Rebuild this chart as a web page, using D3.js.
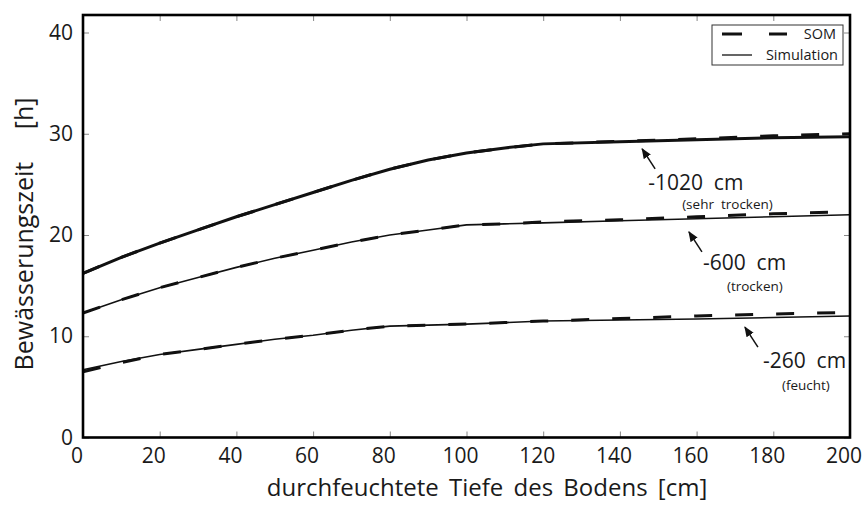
<!DOCTYPE html>
<html><head><meta charset="utf-8">
<script src="https://cdn.jsdelivr.net/npm/d3@7"></script>
<style>body{margin:0;background:#fff}svg{display:block}text{font-family:"Open Sans",sans-serif;fill:#1a1a1a}</style>
</head><body><svg id="c" width="865" height="505"></svg>
<script>
const depth = [0,10,20,30,40,50,60,70,80,90,100,110,120,140,160,180,200];
const sim1020 = [16.2,17.8,19.2,20.5,21.8,23.0,24.2,25.4,26.5,27.4,28.1,28.6,29.0,29.2,29.4,29.6,29.7];
const som1020 = [16.2,17.8,19.2,20.5,21.8,23.0,24.2,25.4,26.5,27.4,28.1,28.6,29.0,29.25,29.5,29.8,30.0];
const sim600 = [12.3,13.6,14.8,15.8,16.8,17.7,18.5,19.3,20.0,20.5,21.0,21.1,21.2,21.4,21.6,21.8,22.0];
const som600 = [12.3,13.6,14.8,15.8,16.8,17.7,18.5,19.3,20.0,20.5,21.0,21.1,21.3,21.5,21.8,22.1,22.3];
const sim260 = [6.7,7.5,8.2,8.7,9.2,9.7,10.1,10.6,11.0,11.1,11.2,11.35,11.5,11.6,11.7,11.85,12.0];
const som260 = [6.5,7.4,8.2,8.7,9.2,9.7,10.1,10.6,11.0,11.1,11.2,11.35,11.5,11.75,12.0,12.2,12.35];
const xTicks = [0,20,40,60,80,100,120,140,160,180,200];
const yTicks = [0,10,20,30,40];
const seriesNames = ["SOM","Simulation"];
const labelBig = ["-1020  cm","-600  cm","-260  cm"];
const labelSmall = ["(sehr  trocken)","(trocken)","(feucht)"];
const arrowDepth = [145.8,158,172.6];
const arrowValue = [28.5,20.3,10.9];

const svg = d3.select("#c");
const x = d3.scaleLinear([0,200],[83,850]);
const y = d3.scaleLinear([0,40],[437.5,32.5]);
const yTop = y.invert(15);

// inward ticks
const tickCol = "#888";
const gAxB = svg.append("g").attr("transform",`translate(0,${y(0)})`)
  .call(d3.axisBottom(x).tickValues(xTicks).tickSize(-6).tickFormat(""));
const gAxT = svg.append("g").attr("transform",`translate(0,${y(yTop)})`)
  .call(d3.axisTop(x).tickValues(xTicks).tickSize(-6).tickFormat(""));
const gAxL = svg.append("g").attr("transform",`translate(${x(0)},0)`)
  .call(d3.axisLeft(y).tickValues(yTicks).tickSize(-6).tickFormat(""));
const gAxR = svg.append("g").attr("transform",`translate(${x(200)},0)`)
  .call(d3.axisRight(y).tickValues(yTicks).tickSize(-6).tickFormat(""));
[gAxB,gAxT,gAxL,gAxR].forEach(g=>{g.select(".domain").remove();g.selectAll("line").attr("stroke",tickCol).attr("stroke-width",1);});

// tick labels
svg.append("g").selectAll("text").data(xTicks).join("text")
  .attr("x",d=>x(d)-6).attr("y",463).attr("text-anchor","middle")
  .attr("font-size",21).text(d=>d);
svg.append("g").selectAll("text").data(yTicks).join("text")
  .attr("x",73).attr("y",d=>y(d)+7).attr("text-anchor","end")
  .attr("font-size",21).text(d=>d);

// axis titles
svg.append("text").attr("x",487).attr("y",496).attr("text-anchor","middle")
  .attr("font-size",24).attr("word-spacing","4px").text("durchfeuchtete Tiefe des Bodens [cm]");
svg.append("text").attr("transform","translate(33,234) rotate(-90)").attr("text-anchor","middle")
  .attr("font-size",25).attr("xml:space","preserve").text("Bewässerungszeit     [h]");

// series
const mk = arr => depth.map((d,i)=>[d,arr[i]]);
const line = d3.line().x(d=>x(d[0])).y(d=>y(d[1]));
const soms = [som1020, som600, som260];
const sims = [sim1020, sim600, sim260];
const simW = [3, 1.6, 1.6];
svg.append("g").selectAll("path").data(soms).join("path")
  .attr("d",d=>line(mk(d))).attr("fill","none").attr("stroke","#111")
  .attr("stroke-width",3).attr("stroke-dasharray","18,23");
svg.append("g").selectAll("path").data(sims).join("path")
  .attr("d",d=>line(mk(d))).attr("fill","none").attr("stroke","#111")
  .attr("stroke-width",(d,i)=>simW[i]);

// frame
svg.append("rect").attr("x",x(0)).attr("y",y(yTop)).attr("width",x(200)-x(0)).attr("height",y(0)-y(yTop))
  .attr("fill","none").attr("stroke","#000").attr("stroke-width",2.6);

// annotations
svg.append("defs").append("marker").attr("id","ah").attr("viewBox","0 0 10 10").attr("refX",9).attr("refY",5)
  .attr("markerWidth",7).attr("markerHeight",7).attr("orient","auto-start-reverse")
  .append("path").attr("d","M0,1 L10,5 L0,9 z").attr("fill","#111");
const bigOff = [[6,41],[14,38],[18,41]];
const smallOff = [[40,60],[38,59],[37,63]];
const ann = svg.append("g");
labelBig.forEach((t,i)=>{
  const tx = x(arrowDepth[i]), ty = y(arrowValue[i]);
  ann.append("line").attr("x1",tx+13).attr("y1",ty+20).attr("x2",tx).attr("y2",ty)
    .attr("stroke","#111").attr("stroke-width",1.5).attr("marker-end","url(#ah)");
  ann.append("text").attr("x",tx+bigOff[i][0]).attr("y",ty+bigOff[i][1]).attr("font-size",21)
    .attr("xml:space","preserve").text(t);
  ann.append("text").attr("x",tx+smallOff[i][0]).attr("y",ty+smallOff[i][1]).attr("font-size",13.5)
    .attr("xml:space","preserve").text(labelSmall[i]);
});

// legend
const lg = svg.append("g");
lg.append("rect").attr("x",712).attr("y",25).attr("width",131).attr("height",40)
  .attr("fill","#fff").attr("stroke","#333").attr("stroke-width",1);
lg.append("line").attr("x1",722).attr("x2",787).attr("y1",34).attr("y2",34)
  .attr("stroke","#111").attr("stroke-width",3).attr("stroke-dasharray","20,27");
lg.append("line").attr("x1",722).attr("x2",752).attr("y1",55).attr("y2",55)
  .attr("stroke","#111").attr("stroke-width",1.3);
lg.append("text").attr("x",836).attr("y",39).attr("text-anchor","end").attr("font-size",14.5).text(seriesNames[0]);
lg.append("text").attr("x",838).attr("y",60).attr("text-anchor","end").attr("font-size",14.5).text(seriesNames[1]);
</script></body></html>
